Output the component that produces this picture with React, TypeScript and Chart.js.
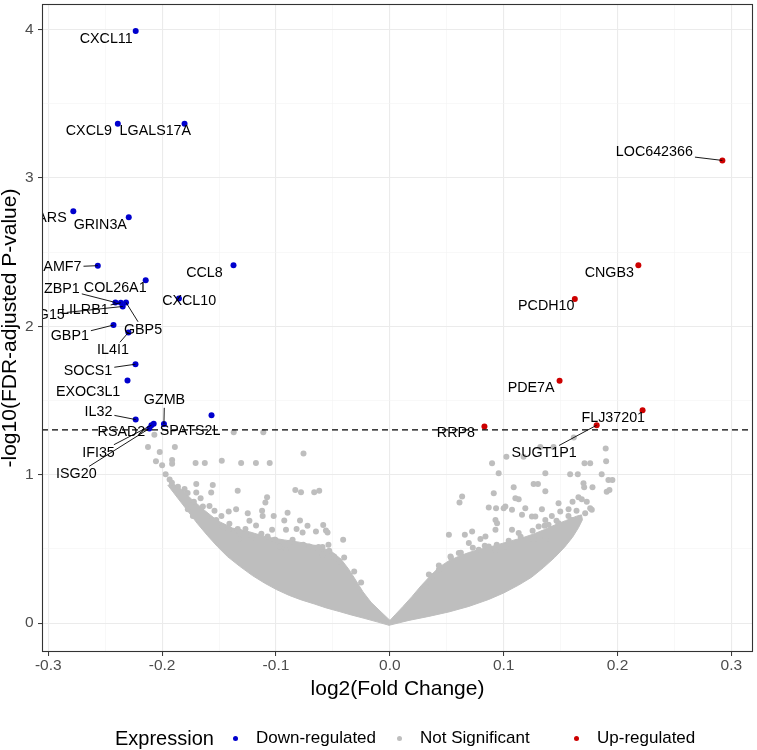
import React, { useEffect, useRef } from "react";
import { Chart, registerables } from "chart.js";

Chart.register(...registerables);

const FONT = '"Liberation Sans", Arial, Helvetica, sans-serif';
const DOWN_COLOR = "#0000CD";
const UP_COLOR = "#CD0000";
const NS_COLOR = "#BEBEBE";

// ---- labelled significant genes ----
const downGenes = ["CXCL11", "CXCL9", "LGALS17A", "WARS", "GRIN3A", "SLAMF7", "CCL8", "COL26A1", "CXCL10", "ZBP1", "LILRB1", "ISG15", "GBP5", "GBP1", "IL4I1", "SOCS1", "EXOC3L1", "IL32", "GZMB", "RSAD2", "IFI35", "ISG20", "SPATS2L"];
const downLog2FC = [-0.2232, -0.2389, -0.1803, -0.278, -0.2293, -0.2565, -0.1373, -0.2144, -0.1852, -0.241, -0.2363, -0.2346, -0.2317, -0.2427, -0.2296, -0.2234, -0.2304, -0.2232, -0.1984, -0.2074, -0.2094, -0.2112, -0.1566];
const downNegLogP = [3.989, 3.365, 3.365, 2.775, 2.734, 2.408, 2.41, 2.31, 2.186, 2.16, 2.158, 2.133, 2.16, 2.008, 1.958, 1.744, 1.634, 1.371, 1.341, 1.343, 1.333, 1.311, 1.4];

const upGenes = ["LOC642366", "CNGB3", "PCDH10", "PDE7A", "FLJ37201", "RRP8", "SUGT1P1"];
const upLog2FC = [0.2921, 0.2183, 0.1625, 0.1491, 0.222, 0.0831, 0.1817];
const upNegLogP = [3.117, 2.41, 2.184, 1.632, 1.433, 1.324, 1.333];

// ---- not significant: sparse points ----
const nsLog2FC = [
  -0.2068, -0.2124, -0.2021, -0.1888, -0.2054, -0.2, -0.1912, -0.1912, -0.1706, -0.1625, -0.1476, -0.1306, -0.1176, -0.1055, -0.1371, -0.1111, -0.0758,
  -0.1969, -0.1934, -0.1914, -0.1861, -0.17, -0.1555, -0.1336, -0.1569, -0.17, -0.1078, -0.1093, -0.1721, -0.1662, -0.1642, -0.154, -0.1415, -0.135,
  -0.1248, -0.1122, -0.1117, -0.102, -0.1233, -0.1175, -0.1525, -0.1613, -0.1415, -0.1336, -0.1268, -0.1467, -0.1146, -0.1073, -0.1014, -0.1218, -0.1321,
  -0.083, -0.078, -0.0664, -0.062, -0.0898, -0.0927, -0.0789, -0.0723, -0.0585, -0.0819, -0.0766, -0.0649, -0.0561, -0.0912, -0.1034, -0.041, -0.0539,
  -0.0591, -0.0708, -0.0626, -0.0591, -0.0504, -0.0547, -0.1776, -0.1803, -0.1774, -0.173, -0.097, -0.0912, -0.0854, -0.0445, -0.0489,
  -0.1321, -0.1216, -0.1128, -0.1006, -0.0883, -0.076, -0.0655, -0.0532, -0.0401, -0.0313, -0.0252, -0.1584, -0.1479, -0.1409,
  0.1616, 0.1322, 0.1438, 0.1024, 0.1175, 0.1896, 0.19, 0.171, 0.176, 0.0898, 0.0956, 0.1366, 0.1584, 0.1651, 0.1861, 0.192, 0.1955, 0.1263, 0.1301,
  0.1701, 0.1707, 0.178, 0.1366, 0.1088, 0.0913, 0.0635, 0.0612, 0.1905, 0.1929, 0.1657, 0.1686, 0.1605, 0.1482, 0.173, 0.1132, 0.157, 0.1336, 0.1423,
  0.1248, 0.1015, 0.1073, 0.1161, 0.0869, 0.0933, 0.1, 0.1103, 0.119, 0.0519, 0.0659, 0.0723, 0.0796, 0.084, 0.0928, 0.0942, 0.0928, 0.1073, 0.1132,
  0.0869, 0.0928, 0.1015, 0.1278, 0.1366, 0.1307, 0.1394, 0.1263, 0.1366, 0.1482, 0.1599, 0.1716, 0.1774, 0.176, 0.1497, 0.0694, 0.0781, 0.0533, 0.0606,
  0.0431, 0.0372, 0.0314,
  0.0343, 0.0431, 0.0536, 0.0624, 0.0729, 0.0834, 0.0939, 0.1044, 0.1149, 0.1254, 0.1359, 0.1464, 0.1569, 0.164,
];
const nsNegLogP = [
  1.268, 1.187, 1.152, 1.187, 1.091, 1.064, 1.098, 1.074, 1.078, 1.078, 1.093, 1.078, 1.078, 1.078, 1.286, 1.286, 1.143,
  1.002, 0.968, 0.946, 0.919, 0.937, 0.93, 0.892, 0.879, 0.879, 0.848, 0.812, 0.818, 0.841, 0.785, 0.756, 0.751, 0.767,
  0.74, 0.756, 0.722, 0.722, 0.689, 0.657, 0.695, 0.711, 0.633, 0.633, 0.633, 0.651, 0.584, 0.584, 0.561, 0.566, 0.566,
  0.897, 0.881, 0.881, 0.892, 0.744, 0.691, 0.691, 0.655, 0.66, 0.633, 0.61, 0.617, 0.624, 0.628, 0.628, 0.561, 0.528,
  0.512, 0.516, 0.512, 0.461, 0.449, 0.61, 0.877, 0.903, 0.767, 0.722, 0.516, 0.494, 0.561, 0.416, 0.449,
  0.615, 0.588, 0.601, 0.561, 0.541, 0.527, 0.507, 0.487, 0.441, 0.347, 0.273, 0.789, 0.722, 0.669,
  1.25, 1.187, 1.187, 1.12, 1.12, 1.176, 1.091, 1.076, 1.076, 1.076, 1.009, 1.009, 1.002, 1.002, 1.002, 0.964, 0.964, 0.937, 0.937,
  0.942, 0.915, 0.915, 0.888, 0.915, 0.875, 0.852, 0.812, 0.885, 0.897, 0.848, 0.834, 0.818, 0.808, 0.818, 0.834, 0.767, 0.767, 0.722,
  0.718, 0.785, 0.763, 0.729, 0.778, 0.774, 0.774, 0.841, 0.774, 0.595, 0.595, 0.617, 0.566, 0.584, 0.695, 0.673, 0.628, 0.628, 0.606,
  0.516, 0.494, 0.516, 0.718, 0.695, 0.651, 0.662, 0.561, 0.561, 0.673, 0.695, 0.74, 0.763, 0.774, 0.751, 0.539, 0.494, 0.449, 0.472,
  0.36, 0.315, 0.248,
  0.327, 0.387, 0.441, 0.474, 0.508, 0.521, 0.528, 0.555, 0.581, 0.622, 0.655, 0.689, 0.722, 0.756,
];

// ---- not significant: outline of the dense, overlapping mass of points ----
const leftMassLog2FC = [-0.1951, -0.1864, -0.1776, -0.1689, -0.1601, -0.1514, -0.1426, -0.1321, -0.1207, -0.1102, -0.0997, -0.0883, -0.0778, -0.0664, -0.0559, -0.0445, -0.034, -0.0226, -0.0112, -0.0007, 0.0011, -0.0077, -0.0165, -0.0235, -0.0296, -0.0358, -0.0428, -0.0507, -0.0638, -0.0795, -0.0927, -0.1084, -0.1233, -0.1382, -0.1514, -0.1628, -0.1741, -0.1846, -0.1916];
const leftMassNegLogP = [0.93, 0.843, 0.756, 0.669, 0.589, 0.515, 0.448, 0.384, 0.32, 0.27, 0.226, 0.186, 0.156, 0.129, 0.102, 0.078, 0.055, 0.032, 0.008, -0.015, 0.011, 0.075, 0.14, 0.21, 0.285, 0.36, 0.43, 0.48, 0.52, 0.545, 0.56, 0.58, 0.615, 0.64, 0.69, 0.76, 0.835, 0.91, 0.944];
const rightMassLog2FC = [-0.0007, 0.0168, 0.0343, 0.0519, 0.0694, 0.0869, 0.1001, 0.1132, 0.1246, 0.135, 0.1447, 0.1535, 0.1605, 0.1657, 0.1692, 0.1683, 0.164, 0.1543, 0.1447, 0.1359, 0.1263, 0.1167, 0.107, 0.0956, 0.0869, 0.0781, 0.0694, 0.0606, 0.0519, 0.0431, 0.0352, 0.0273, 0.0194, 0.0116, 0.0046, -0.0007];
const rightMassNegLogP = [-0.015, 0.018, 0.045, 0.075, 0.112, 0.159, 0.203, 0.256, 0.309, 0.374, 0.441, 0.511, 0.578, 0.642, 0.696, 0.729, 0.72, 0.69, 0.66, 0.63, 0.6, 0.575, 0.555, 0.53, 0.51, 0.495, 0.475, 0.45, 0.42, 0.375, 0.315, 0.25, 0.178, 0.112, 0.055, 0.011];

// ---- axes ----
const xMajorTicks = [-0.3, -0.2, -0.1, 0, 0.1, 0.2, 0.3];
const xTickLabels = ["-0.3", "-0.2", "-0.1", "0.0", "0.1", "0.2", "0.3"];
const xMinorTicks = [-0.25, -0.15, -0.05, 0.05, 0.15, 0.25];
const yMajorTicks = [0, 1, 2, 3, 4];
const yTickLabels = ["0", "1", "2", "3", "4"];
const yMinorTicks = [0.5, 1.5, 2.5, 3.5];
const X_MIN = -0.3055;
const X_MAX = 0.319;
const Y_MIN = -0.195;
const Y_MAX = 4.171;
const fdrCutoff = 0.05;
const thresholdY = -Math.log10(fdrCutoff);

// label placement (pixel offset of text centre from its point, draw connector?)
const labelLayout: Record<string, [number, number, boolean]> = {
  CXCL11: [-29.5, 8, false],
  CXCL9: [-29, 7.5, false],
  LGALS17A: [-29.2, 7.5, false],
  WARS: [-27.8, 7, false],
  GRIN3A: [-28.5, 7.7, false],
  SLAMF7: [-44.1, 1.8, true],
  CCL8: [-29, 7.7, false],
  COL26A1: [-30.5, 7.7, false],
  CXCL10: [10.2, 2, false],
  ZBP1: [-53.5, -13.7, true],
  LILRB1: [-36, 7.7, true],
  ISG15: [-78.2, 8.3, true],
  GBP5: [17, 27.3, true],
  GBP1: [-43.7, 11, true],
  IL4I1: [-15.4, 17.8, true],
  SOCS1: [-47.4, 6.8, true],
  EXOC3L1: [-39.4, 11.7, false],
  IL32: [-37.2, -7.3, true],
  GZMB: [0.5, -24.2, true],
  RSAD2: [-32.3, 8.5, false],
  SPATS2L: [-21.5, 16, false],
  IFI35: [-52.9, 27.5, true],
  ISG20: [-73, 45.9, true],
  LOC642366: [-68, -8.2, true],
  CNGB3: [-29, 7.2, false],
  PCDH10: [-28.6, 7, false],
  PDE7A: [-28.5, 6.9, false],
  FLJ37201: [-29.3, 7.2, false],
  RRP8: [-28.5, 7, false],
  SUGT1P1: [-52.5, 28.3, true],
};

const near = (v: number, arr: number[]) => arr.some((a) => Math.abs(a - v) < 1e-9);
const toPts = (xs: number[], ys: number[]) => xs.map((x, i) => ({ x, y: ys[i] }));

const labelPlugin = {
  id: "repelLabels",
  afterDatasetsDraw(chart: any) {
    const { ctx, chartArea, scales } = chart;
    const xs = scales.x;
    const ys = scales.y;
    ctx.save();
    ctx.beginPath();
    ctx.rect(chartArea.left, chartArea.top, chartArea.right - chartArea.left, chartArea.bottom - chartArea.top);
    ctx.clip();
    ctx.font = `14.3px ${FONT}`;
    ctx.textAlign = "center";
    ctx.textBaseline = "middle";
    const draw = (genes: string[], fc: number[], p: number[]) => {
      genes.forEach((g, i) => {
        const px = xs.getPixelForValue(fc[i]);
        const py = ys.getPixelForValue(p[i]);
        const lay = labelLayout[g] || [-29, 7.5, false];
        const cx = px + lay[0];
        const cy = py + lay[1];
        if (lay[2]) {
          const hw = ctx.measureText(g).width / 2 + 2;
          const hh = 8;
          const vx = px - cx;
          const vy = py - cy;
          const tx = Math.abs(vx) > 1e-6 ? hw / Math.abs(vx) : Infinity;
          const ty = Math.abs(vy) > 1e-6 ? hh / Math.abs(vy) : Infinity;
          const t = Math.min(tx, ty, 1);
          ctx.beginPath();
          ctx.moveTo(px, py);
          ctx.lineTo(cx + vx * t, cy + vy * t);
          ctx.strokeStyle = "#000";
          ctx.lineWidth = 0.9;
          ctx.stroke();
        }
        ctx.fillStyle = "#000";
        ctx.fillText(g, cx, cy);
      });
    };
    draw(downGenes, downLog2FC, downNegLogP);
    draw(upGenes, upLog2FC, upNegLogP);
    ctx.restore();
  },
};

const framePlugin = {
  id: "panelFrame",
  afterDraw(chart: any) {
    const { ctx, chartArea } = chart;
    const { left, top, right, bottom } = chartArea;
    ctx.save();
    ctx.strokeStyle = "#333333";
    ctx.lineWidth = 1.1;
    ctx.strokeRect(left + 0.5, top + 0.5, right - left - 1, bottom - top - 1);
    ctx.restore();
  },
};

const legendEntries = [
  { label: "Down-regulated", color: DOWN_COLOR, dotX: 235, textX: 256 },
  { label: "Not Significant", color: NS_COLOR, dotX: 399, textX: 420 },
  { label: "Up-regulated", color: UP_COLOR, dotX: 576, textX: 597 },
];

export default function App() {
  const ref = useRef<HTMLCanvasElement>(null);

  useEffect(() => {
    const canvas = ref.current;
    if (!canvas) return;
    const gridColor = (majors: number[]) => (c: any) =>
      c.tick && near(c.tick.value, majors) ? "#EBEBEB" : "#F3F3F3";
    const gridWidth = (majors: number[]) => (c: any) =>
      c.tick && near(c.tick.value, majors) ? 1.1 : 0.6;
    const tickColor = (majors: number[]) => (c: any) =>
      c.tick && near(c.tick.value, majors) ? "#333333" : "rgba(0,0,0,0)";

    const chart = new Chart(canvas, {
      type: "scatter",
      data: {
        datasets: [
          {
            type: "line",
            data: toPts(leftMassLog2FC, leftMassNegLogP),
            showLine: true,
            fill: "shape",
            backgroundColor: NS_COLOR,
            borderColor: NS_COLOR,
            borderWidth: 1,
            pointRadius: 0,
            tension: 0,
            order: 6,
          } as any,
          {
            type: "line",
            data: toPts(rightMassLog2FC, rightMassNegLogP),
            showLine: true,
            fill: "shape",
            backgroundColor: NS_COLOR,
            borderColor: NS_COLOR,
            borderWidth: 1,
            pointRadius: 0,
            tension: 0,
            order: 6,
          } as any,
          {
            data: toPts(nsLog2FC, nsNegLogP),
            backgroundColor: NS_COLOR,
            borderWidth: 0,
            pointRadius: 3,
            order: 5,
          },
          {
            data: toPts(downLog2FC, downNegLogP),
            backgroundColor: DOWN_COLOR,
            borderWidth: 0,
            pointRadius: 3,
            order: 3,
          },
          {
            data: toPts(upLog2FC, upNegLogP),
            backgroundColor: UP_COLOR,
            borderWidth: 0,
            pointRadius: 3,
            order: 3,
          },
          {
            type: "line",
            data: [
              { x: X_MIN, y: thresholdY },
              { x: X_MAX, y: thresholdY },
            ],
            showLine: true,
            fill: false,
            borderColor: "#000000",
            borderWidth: 1.2,
            borderDash: [6, 4],
            pointRadius: 0,
            order: 1,
          } as any,
        ],
      },
      options: {
        animation: false,
        responsive: false,
        events: [],
        layout: { padding: { top: 1, right: 2, left: 0, bottom: 0 } },
        plugins: {
          legend: { display: false },
          tooltip: { enabled: false },
        },
        scales: {
          x: {
            type: "linear",
            min: X_MIN,
            max: X_MAX,
            afterBuildTicks: (s: any) => {
              s.ticks = [...xMajorTicks, ...xMinorTicks].sort((a, b) => a - b).map((v) => ({ value: v }));
            },
            afterFit: (s: any) => {
              s.height = 98;
              s.paddingLeft = 0;
              s.paddingRight = 0;
            },
            border: { display: false },
            grid: {
              color: gridColor(xMajorTicks),
              lineWidth: gridWidth(xMajorTicks),
              drawTicks: true,
              tickLength: 4,
              tickWidth: 1,
              tickColor: tickColor(xMajorTicks),
            },
            ticks: {
              autoSkip: false,
              maxRotation: 0,
              padding: 0,
              color: "#4D4D4D",
              font: { family: FONT, size: 15.5 },
              callback: (v: any) => {
                const i = xMajorTicks.findIndex((t) => Math.abs(t - Number(v)) < 1e-9);
                return i >= 0 ? xTickLabels[i] : "";
              },
            },
            title: {
              display: true,
              text: "log2(Fold Change)",
              color: "#000000",
              font: { family: FONT, size: 21, lineHeight: 1 },
              padding: { top: 0, bottom: 50 },
            },
          },
          y: {
            type: "linear",
            min: Y_MIN,
            max: Y_MAX,
            afterBuildTicks: (s: any) => {
              s.ticks = [...yMajorTicks, ...yMinorTicks].sort((a, b) => a - b).map((v) => ({ value: v }));
            },
            afterFit: (s: any) => {
              s.width = 42;
              s.paddingTop = 0;
              s.paddingBottom = 0;
            },
            border: { display: false },
            grid: {
              color: gridColor(yMajorTicks),
              lineWidth: gridWidth(yMajorTicks),
              drawTicks: true,
              tickLength: 4,
              tickWidth: 1,
              tickColor: tickColor(yMajorTicks),
            },
            ticks: {
              autoSkip: false,
              padding: 4.5,
              color: "#4D4D4D",
              font: { family: FONT, size: 15.5 },
              callback: (v: any) => {
                const i = yMajorTicks.findIndex((t) => Math.abs(t - Number(v)) < 1e-9);
                return i >= 0 ? yTickLabels[i] : "";
              },
            },
            title: {
              display: true,
              text: "-log10(FDR-adjusted P-value)",
              color: "#000000",
              font: { family: FONT, size: 21, lineHeight: 1 },
              padding: { top: 0, bottom: 0 },
            },
          },
        },
      } as any,
      plugins: [labelPlugin, framePlugin],
    });
    return () => chart.destroy();
  }, []);

  return (
    <div
      style={{
        position: "fixed",
        left: 0,
        top: 0,
        width: 757,
        height: 750,
        background: "#ffffff",
        fontFamily: FONT,
        overflow: "hidden",
      }}
    >
      <canvas ref={ref} width={757} height={750} style={{ display: "block" }} />
      <div style={{ position: "absolute", left: 0, top: 726, width: 757, height: 24 }}>
        <span
          style={{
            position: "absolute",
            left: 115,
            top: 0,
            lineHeight: "24px",
            fontSize: 20,
            color: "#000",
            whiteSpace: "nowrap",
          }}
        >
          Expression
        </span>
        {legendEntries.map((e) => (
          <React.Fragment key={e.label}>
            <span
              style={{
                position: "absolute",
                left: e.dotX - 2.5,
                top: 12 - 2.5,
                width: 5,
                height: 5,
                borderRadius: "50%",
                background: e.color,
              }}
            />
            <span
              style={{
                position: "absolute",
                left: e.textX,
                top: 0,
                lineHeight: "24px",
                fontSize: 17,
                color: "#000",
                whiteSpace: "nowrap",
              }}
            >
              {e.label}
            </span>
          </React.Fragment>
        ))}
      </div>
    </div>
  );
}
